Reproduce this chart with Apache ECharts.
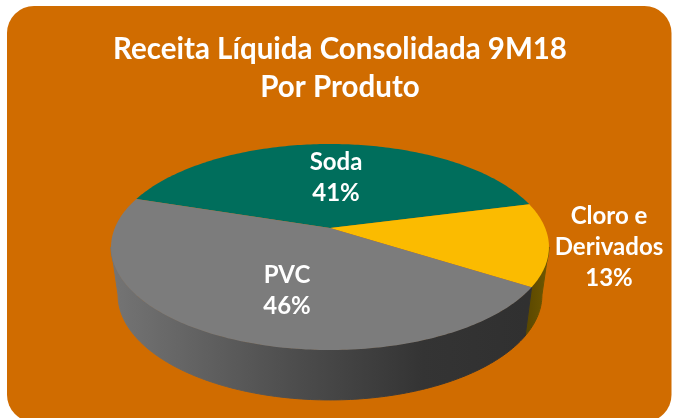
<!DOCTYPE html>
<html>
<head>
<meta charset="utf-8">
<style>
html, body { margin: 0; padding: 0; background: #fff; }
#chart { width: 676px; height: 418px; }
</style>
<script src="https://cdn.jsdelivr.net/npm/echarts@6/dist/echarts.min.js"></script>
</head>
<body>
<div id="chart"></div>
<script>
var titleLines = ["Receita Líquida Consolidada 9M18", "Por Produto"];
var categories = ["Soda", "Cloro e\nDerivados", "PVC"];
var shares = [41, 13, 46];
var topColors = ["#006E5C", "#FBBB00", "#7C7C7C"];

// angulo inicial da primeira fatia, em graus (sentido horario na tela)
var startAngle = -162;
var fontName = "Lato";

// projecao do disco: perspectiva simples, topo e base
var persp = 0.1845;
var topDisc = { cx: 330, cy: 228, kx: 215.2, ky: 99.5 };
var baseDisc = { cx: 330, cy: 275.6, kx: 208.3, ky: 101.4 };
// a parede so aparece entre os dois pontos extremos da elipse
var wallFrom = Math.asin(persp) * 180 / Math.PI;
var wallTo = 180 - wallFrom;

function project(disc, deg) {
    var a = deg * Math.PI / 180;
    var u = Math.cos(a), v = Math.sin(a);
    var d = 1 - persp * v;
    return [disc.cx + disc.kx * u / d, disc.cy + disc.ky * v / d];
}

function arcPoints(disc, from, to) {
    var pts = [];
    var n = Math.ceil(Math.abs(to - from));
    for (var i = 0; i <= n; i++) {
        pts.push(project(disc, from + (to - from) * i / n));
    }
    return pts;
}

function sliceRange(index) {
    var total = shares.reduce(function(s, v) { return s + v; }, 0);
    var from = startAngle;
    for (var i = 0; i < index; i++) from += shares[i] / total * 360;
    return [from, from + shares[index] / total * 360];
}

function renderTop(params) {
    var r = sliceRange(params.dataIndex);
    var pts = arcPoints(topDisc, r[0], r[1]);
    pts.push([topDisc.cx, topDisc.cy]);
    return {
        type: "polygon",
        shape: { points: pts },
        style: { fill: topColors[params.dataIndex] }
    };
}

var wallFills = [
    null,
    { type: "linear", global: true, x: 526, y: 0, x2: 548, y2: 0,
      colorStops: [{ offset: 0, color: "#5A4700" }, { offset: 1, color: "#6E5700" }] },
    { type: "linear", global: true, x: 113, y: 0, x2: 526, y2: 0,
      colorStops: [
        { offset: 0, color: "#747474" },
        { offset: 0.45, color: "#4C4C4C" },
        { offset: 0.75, color: "#343434" },
        { offset: 1, color: "#303030" }
      ] }
];

function renderWall(params) {
    var fill = wallFills[params.dataIndex];
    if (!fill) return null;
    var r = sliceRange(params.dataIndex);
    var from = Math.max(r[0], wallFrom);
    var to = Math.min(r[1], wallTo);
    var pts = arcPoints(topDisc, from, to).concat(arcPoints(baseDisc, to, from));
    return {
        type: "polygon",
        shape: { points: pts },
        // o traco evita a linha laranja entre a parede e o topo
        style: { fill: fill, stroke: fill, lineWidth: 1 }
    };
}

function makeLabel(index, x, y) {
    return {
        type: "text",
        x: x,
        y: y,
        z: 10,
        style: {
            text: categories[index] + "\n" + shares[index] + "%",
            fill: "#fff",
            font: "bold 24px " + fontName,
            lineHeight: 31,
            align: "center",
            verticalAlign: "middle"
        }
    };
}

var chart = echarts.init(document.getElementById("chart"), null, { renderer: "canvas" });
chart.setOption({
    animation: false,
    backgroundColor: "#fff",
    title: {
        text: titleLines.join("\n"),
        left: 335,
        top: 25,
        textAlign: "center",
        textStyle: { color: "#fff", fontFamily: fontName, fontWeight: "bold", fontSize: 29.5, lineHeight: 38 }
    },
    graphic: [
        {
            type: "rect",
            z: -10,
            silent: true,
            shape: { x: 7, y: 6, width: 664.5, height: 416, r: 27 },
            style: { fill: "#D06C00" }
        },
        makeLabel(0, 336, 178),
        makeLabel(1, 609, 247),
        makeLabel(2, 287, 291)
    ],
    series: [
        { type: "custom", coordinateSystem: "none", z: 1, silent: true, renderItem: renderWall, data: shares },
        { type: "custom", coordinateSystem: "none", z: 2, silent: true, renderItem: renderTop, data: shares }
    ]
});
</script>
</body>
</html>
